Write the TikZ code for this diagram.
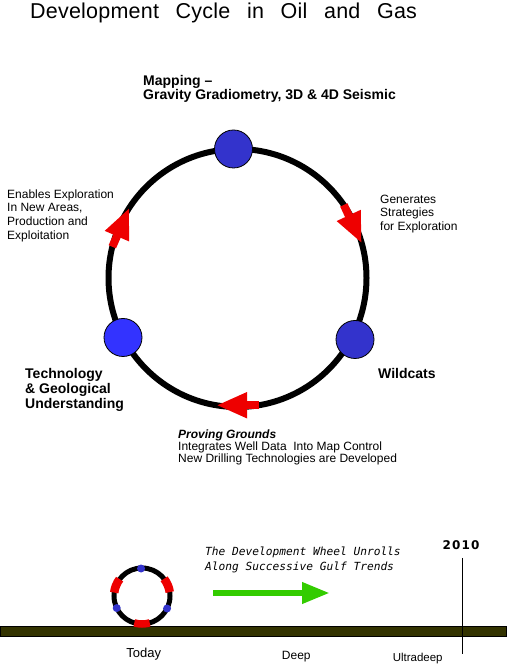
\documentclass[tikz,border=0pt]{standalone}
\usepackage{fontspec}
\setmainfont{Liberation Sans}
\newfontfamily\titlefont[WordSpace=2.7,LetterSpace=1]{Liberation Sans}
\newfontfamily\wheelfont{DejaVu Sans Mono}
\newfontfamily\yearfont[LetterSpace=10]{DejaVu Sans}
\usetikzlibrary{positioning, arrows.meta}

\definecolor{stageblue}{RGB}{51,51,204}
\definecolor{brightblue}{RGB}{51,51,255}
\definecolor{cyclered}{RGB}{238,0,0}
\definecolor{trendgreen}{RGB}{51,204,0}
\definecolor{seabed}{RGB}{51,51,0}

\begin{document}
\begin{tikzpicture}[x=1pt, y=1pt,
        stage/.style={draw, circle, minimum size=38pt, inner sep=0pt, line width=0.8pt, fill=stageblue},
        cyclearrow/.style={cyclered, line width=8pt, -{Triangle[length=31pt, width=24pt]}},
        note/.style={anchor=base west, inner sep=0pt, align=left, font=\fontsize{12}{13.7}\selectfont},
        heading/.style={anchor=base west, inner sep=0pt, align=left, font=\bfseries\fontsize{14}{15}\selectfont},
        trend/.style={anchor=base, inner sep=0pt},
        spoke/.style={circle, fill=stageblue, minimum size=8pt, inner sep=0pt}]
        \useasboundingbox (0,0) rectangle (508,666);
        \node[anchor=base west, inner sep=0pt, font=\titlefont\fontsize{21.5}{24}\selectfont] (title) at (30,647.7) {Development Cycle in Oil and Gas};

        \coordinate (hub) at (237.5,388);
        \draw[line width=6pt] (hub) circle (129pt);
        \coordinate (gen-s) at ([shift={(hub)}]34.5:129pt);
        \coordinate (gen-e) at ([shift={(hub)}]15.5:129pt);
        \coordinate (prove-s) at ([shift={(hub)}]279.5:129pt);
        \coordinate (prove-e) at ([shift={(hub)}]260.5:129pt);
        \coordinate (enable-s) at ([shift={(hub)}]166:129pt);
        \coordinate (enable-e) at ([shift={(hub)}]147:129pt);
        \draw[cyclearrow] (gen-s) -- (gen-e);
        \draw[cyclearrow] (prove-s) -- (prove-e);
        \draw[cyclearrow] (enable-s) -- (enable-e);
        \node[stage] (map) at (233.5,517) {};
        \node[stage, fill=brightblue] (tech) at (123,328.5) {};
        \node[stage] (wild) at (355,326.5) {};

        \node[heading, font=\bfseries\fontsize{14}{14}\selectfont] (maplbl) at (143,566) {Mapping --\\Gravity Gradiometry, 3D \& 4D Seismic};
        \node[note] (enablelbl) at (7,426.7) {Enables Exploration\\In New Areas,\\Production and\\Exploitation};
        \node[note] (genlbl) at (380,435.3) {Generates\\Strategies\\for Exploration};
        \node[heading] (wildlbl) at (378,287) {Wildcats};
        \node[heading] (techlbl) at (25,257.7) {Technology\\\& Geological\\Understanding};
        \node[note, font=\fontsize{12}{11.7}\selectfont] (provelbl) at (178,203.7) {{\bfseries\itshape Proving Grounds}\\Integrates Well Data\ \ Into Map Control\\New Drilling Technologies are Developed};

        \draw[fill=seabed, line width=0.8pt] (0.5,29.3) rectangle (506,39.3);
        \coordinate (mini) at (142,70);
        \draw[line width=5pt] (mini) circle (28pt);
        \draw[cyclered, line width=8.5pt] ([shift={(mini)}]38:28pt) arc[start angle=38, end angle=8, radius=28pt];
        \draw[cyclered, line width=8.5pt] ([shift={(mini)}]173:28pt) arc[start angle=173, end angle=143, radius=28pt];
        \draw[cyclered, line width=7.5pt] ([shift={(mini)}]286:28pt) arc[start angle=286, end angle=254, radius=28pt];
        \node[spoke] (spoke1) at ([shift={(mini)}]92:27.5pt) {};
        \node[spoke] (spoke2) at ([shift={(mini)}]205.5:28pt) {};
        \node[spoke] (spoke3) at ([shift={(mini)}]333.5:28pt) {};

        \coordinate (roll-s) at (213,73);
        \coordinate (roll-e) at (330,73);
        \draw[trendgreen, line width=6.7pt, -{Triangle[length=28pt, width=20pt]}] (roll-s) -- (roll-e);
        \node[anchor=base west, inner sep=0pt, align=left, font=\wheelfont\itshape\fontsize{11.2}{14.7}\selectfont] (rolllbl) at (205,95.3) {The Development Wheel Unrolls\\Along Successive Gulf Trends};

        \coordinate (mark-top) at (462.3,108);
        \coordinate (mark-bot) at (462.3,12);
        \draw[line width=1pt] (mark-top) -- (mark-bot);
        \node[trend, font=\yearfont\bfseries\fontsize{12}{13}\selectfont] (year) at (461,116) {2010};
        \node[trend, font=\fontsize{13}{14}\selectfont] (today) at (143.8,8.3) {Today};
        \node[trend, font=\fontsize{12}{13}\selectfont] (deep) at (296.3,6.7) {Deep};
        \node[trend, font=\fontsize{11.5}{12}\selectfont] (ultra) at (417.7,4.3) {Ultradeep};
\end{tikzpicture}
\end{document}
